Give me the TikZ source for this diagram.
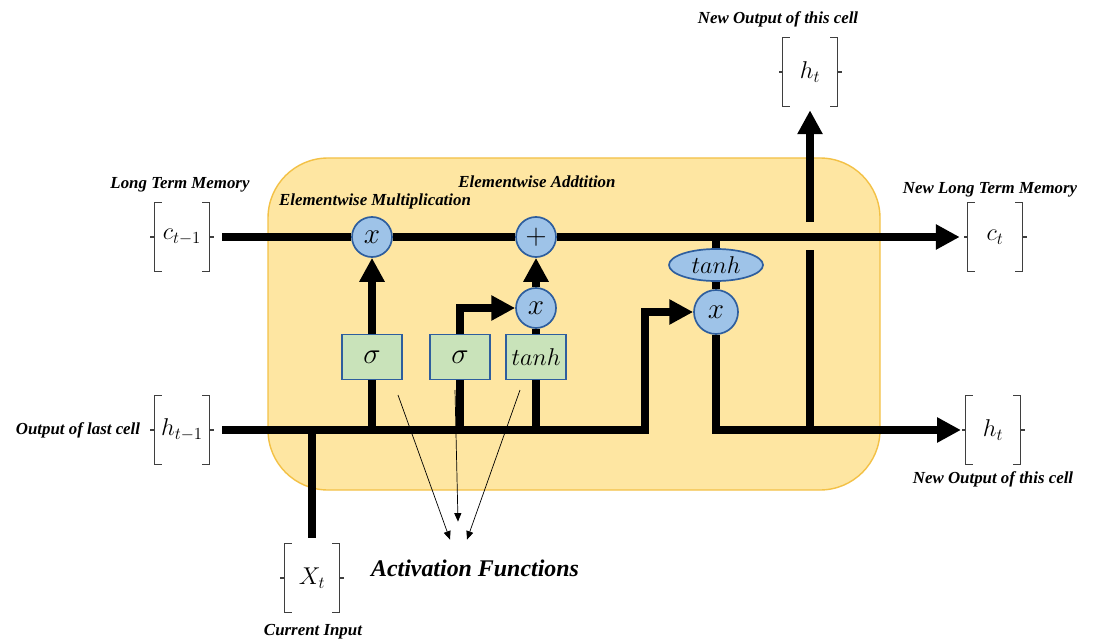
\documentclass[tikz,border=0pt]{standalone}
\usepackage{amsmath}
\usepackage{fontspec}
\newfontfamily\lblfont{Liberation Serif}
\usetikzlibrary{arrows.meta,positioning,shapes.geometric}

\definecolor{cellfill}{HTML}{FEE6A2}
\definecolor{cellborder}{HTML}{F3C146}
\definecolor{opfill}{HTML}{9EC3E8}
\definecolor{opborder}{HTML}{2E5E9E}
\definecolor{gatefill}{HTML}{C9E3BA}
\definecolor{brkgray}{HTML}{3F3F3F}

\tikzset{
  flow/.style={line width=5.8pt},
  flowarrow/.style={line width=5.8pt,-{Triangle[length=17pt,width=17pt]}},
  thinarrow/.style={line width=0.5pt,-{Triangle[length=6pt,width=5pt]}},
  op/.style={circle,draw=opborder,fill=opfill,line width=1.2pt,minimum size=1cm,
    inner sep=0pt,font=\huge},
  opell/.style={ellipse,draw=opborder,fill=opfill,line width=1.2pt,minimum width=2.35cm,
    minimum height=0.8cm,inner sep=0pt,font=\LARGE},
  gate/.style={rectangle,draw=opborder,fill=gatefill,line width=1.2pt,minimum width=1.5cm,
    minimum height=1.12cm,inner sep=0pt,font=\huge},
  vec/.style={minimum width=1.35cm,minimum height=1.7cm,inner sep=0pt,font=\LARGE},
  brk/.style={draw=brkgray,line width=0.9pt},
  lbl/.style={font=\lblfont\bfseries\itshape\fontsize{12}{14}\selectfont},
}

% bracket pair round a vector node
\newcommand{\vecbr}[1]{%
  \draw[brk] ([xshift=5pt]#1.north west) -- (#1.north west) -- (#1.south west)
    -- ([xshift=5pt]#1.south west);
  \draw[brk] ([xshift=-5pt]#1.north east) -- (#1.north east) -- (#1.south east)
    -- ([xshift=-5pt]#1.south east);
  \draw[brk] (#1.west) -- ++(-3pt,0) (#1.east) -- ++(3pt,0);}

\begin{document}
\begin{tikzpicture}[x=0.025cm,y=-0.025cm]
  \useasboundingbox (0,0) rectangle (1096,643);

  % the cell
  \path[fill=cellfill,draw=cellborder,line width=1pt,rounded corners=1.5cm]
    (268,158) rectangle (880,490);

  % operations and gates
  \node[op] (mul) at (372,237) {$x$};
  \node[op] (add) at (536,237) {$+$};
  \node[op] (mulin) at (536,308) {$x$};
  \node[op,minimum size=1.1cm] (mulout) at (716,312) {$x$};
  \node[opell] (tanhc) at (716,265) {$tanh$};
  \node[gate] (forget) at (372,357) {$\sigma$};
  \node[gate] (input) at (460,357) {$\sigma$};
  \node[gate,font=\LARGE] (cand) at (536,357) {$tanh$};

  % vectors
  \node[vec] (cprev) at (182,237) {$c_{t-1}$};
  \node[vec] (hprev) at (182,430) {$h_{t-1}$};
  \node[vec] (cnext) at (995,237) {$c_t$};
  \node[vec] (hnext) at (993,430) {$h_t$};
  \node[vec] (hup) at (810,72) {$h_t$};
  \node[vec] (xin) at (312,578) {$X_t$};
  \foreach \b in {cprev,hprev,cnext,hnext,hup,xin}
    \vecbr{\b};

  % labels
  \node[lbl] (ltm) at (180,185) {Long Term Memory};
  \node[lbl] (emul) at (375,201) {Elementwise Multiplication};
  \node[lbl] (eadd) at (537,182) {Elementwise Addtition};
  \node[lbl] (nltm) at (990,190) {New Long Term Memory};
  \node[lbl] (olc) at (78,430) {Output of last cell};
  \node[lbl] (noc) at (993,479) {New Output of this cell};
  \node[lbl] (nocup) at (778,19) {New Output of this cell};
  \node[lbl] (cin) at (313,632) {Current Input};
  \node[font=\lblfont\bfseries\itshape\fontsize{17}{20}\selectfont] (act) at (475,568)
    {Activation Functions};

  \coordinate (hbend) at (645,430);
  \coordinate (ctap) at (716,237);
  \coordinate (hsplit) at (810,430);
  \coordinate (hgapa) at (810,250);
  \coordinate (hgapb) at (810,222);

  % cell state
  \draw[flow,shorten <=0.33cm] (cprev) -- (mul);
  \draw[flow] (mul) -- (add);
  \draw[flowarrow,shorten >=0.2cm] (add) -- (cnext);

  % hidden state and input
  \draw[flowarrow,shorten <=0.33cm] (hprev) -- (hbend) |- (mulout);
  \draw[flow,shorten <=0.15cm] (xin) -- (xin |- hprev);
  \draw[flow] (forget.south |- hprev) -- (forget);
  \draw[flowarrow] (forget) -- (mul);
  \draw[flow] (input.south |- hprev) -- (input);
  \draw[flowarrow] (input) |- (mulin);
  \draw[flow] (cand.south |- hprev) -- (cand);
  \draw[flow] (cand) -- (mulin);
  \draw[flowarrow] (mulin) -- (add);

  % output
  \draw[flow] (ctap) -- (tanhc);
  \draw[flow] (tanhc) -- (mulout);
  \draw[flowarrow,shorten >=0.12cm] (mulout) |- (hnext);
  \draw[flow] (hsplit) -- (hgapa);
  \draw[flowarrow,shorten >=0.1cm] (hgapb) -- (hup);

  % activation functions
  \coordinate (srca) at (398,395);
  \coordinate (srcb) at (455,390);
  \coordinate (srcc) at (520,390);
  \draw[thinarrow] (srca) -- ([shift={(-25,-15)}]act.north);
  \draw[thinarrow] (srcb) -- ([shift={(-17,-33)}]act.north);
  \draw[thinarrow] (srcc) -- ([shift={(-8,-15)}]act.north);
\end{tikzpicture}
\end{document}
